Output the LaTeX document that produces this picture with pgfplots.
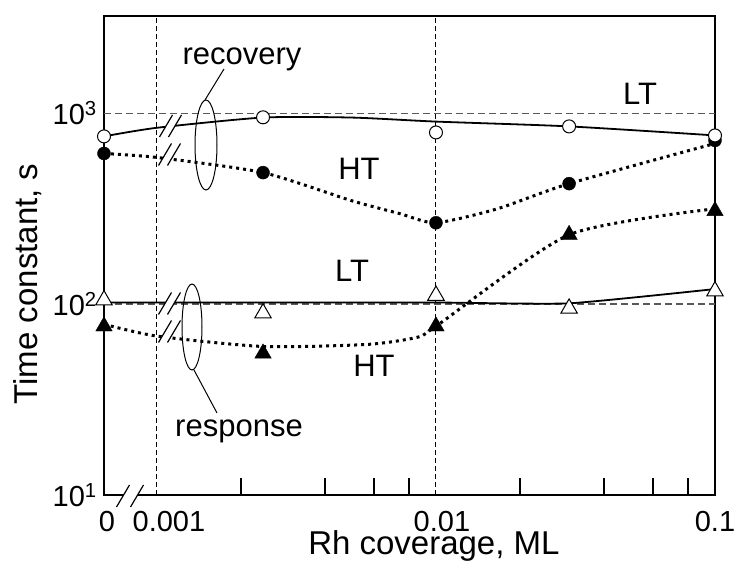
\documentclass[border=0pt]{standalone}
\usepackage{pgfplots}
\pgfplotsset{compat=1.18}
\usepackage{fontspec}
\setmainfont{Liberation Sans}
\newcommand{\brk}[3]{%
 \fill[white] ({#1-#3-6.5},{#2-11}) -- ({#1+#3-6.5},{#2-11}) -- ({#1+#3+6.5},{#2+11}) -- ({#1-#3+6.5},{#2+11}) -- cycle;
 \draw[line width=1.2pt] ({#1-#3-6.5},{#2-11}) -- ({#1-#3+6.5},{#2+11});
 \draw[line width=1.2pt] ({#1+#3-6.5},{#2-11}) -- ({#1+#3+6.5},{#2+11});
}
\begin{document}
\begin{tikzpicture}[x=1pt,y=1pt]
\begin{axis}[
  at={(104pt,74pt)}, anchor=south west,
  scale only axis, width=611pt, height=479pt,
  xmode=log, ymode=log,
  xmin=0.000646, xmax=0.1, ymin=10, ymax=3236,
  clip=false,
  axis line style={draw=none},
  xtick={0.000646,0.001,0.01,0.1},
  xticklabels={\hspace*{6pt}0,\hspace*{24pt}0.001,\hspace*{12pt}0.01,0.1},
  minor xtick={0.002,0.004,0.006,0.008,0.02,0.04,0.06,0.08},
  ytick={10,100,1000},
  yticklabels={10\textsuperscript{1},10\textsuperscript{2},10\textsuperscript{3}},
  yminorticks=false,
  xtick pos=left, ytick pos=left,
  major tick length=0pt, minor tick length=17pt,
  minor tick style={line width=1.3pt,black},
  xticklabel style={font=\fontsize{29}{34}\selectfont, anchor=base, yshift=-37pt, inner sep=0pt},
  yticklabel style={font=\fontsize{29}{34}\selectfont, anchor=east, inner sep=0pt, xshift=-7pt},
  xlabel={Rh coverage, ML}, ylabel={Time constant, s},
  xlabel style={font=\fontsize{33}{38}\selectfont, at={(axis description cs:0.54,0)}, anchor=base, yshift=-60pt, inner sep=0pt},
  ylabel style={font=\fontsize{33}{38}\selectfont, at={(axis description cs:-0.1244,0.4405)}, anchor=center},
]
% frame
\draw[black, line width=2.6pt] (rel axis cs:0,0) rectangle (rel axis cs:1,1);
% reference grid lines
\draw[gray!70!black, line width=1.4pt, dash pattern=on 7pt off 4pt] (axis cs:0.000646,1000) -- (axis cs:0.1,1000);
\draw[gray!70!black, line width=1.4pt, dash pattern=on 7pt off 4pt] (axis cs:0.000646,100) -- (axis cs:0.1,100);
\draw[black, line width=1pt, dash pattern=on 5pt off 3pt] (axis cs:0.001,10) -- (axis cs:0.001,3236);
\draw[black, line width=1pt, dash pattern=on 5pt off 3pt] (axis cs:0.01,10) -- (axis cs:0.01,3236);

% guide curves
\addplot[black, line width=1.8pt, smooth, tension=0.4] coordinates {
 (0.000646,757) (0.001,840) (0.0024,950) (0.005,950) (0.01,905) (0.03,854) (0.1,766)};
\addplot[black, line width=3pt, dash pattern=on 3pt off 4pt, smooth, tension=0.4] coordinates {
 (0.000646,616) (0.001,587) (0.0024,489) (0.005,348) (0.00743,298) (0.01,267) (0.0166,316) (0.03,428) (0.1,695)};
\addplot[black, line width=1.8pt, smooth, tension=0.3] coordinates {
 (0.000646,102) (0.001,102) (0.0024,102) (0.01,102) (0.03,101) (0.1,120)};
\addplot[black, line width=3pt, dash pattern=on 3pt off 4pt, smooth, tension=0.4] coordinates {
 (0.000646,78.5) (0.001,68) (0.0024,60) (0.00566,61.5) (0.00855,67) (0.01,76.6) (0.03,231) (0.1,316)};

% markers: recovery HT (filled circles)
\addplot[only marks, mark=*, mark size=6.5pt, mark options={fill=black, draw=black}] coordinates {
 (0.000646,616) (0.0024,489) (0.01,267) (0.03,428) (0.1,721)};
% recovery LT (open circles)
\addplot[only marks, mark=*, mark size=6.5pt, mark options={fill=white, draw=black, line width=1pt}] coordinates {
 (0.000646,757) (0.0024,953) (0.01,794) (0.03,854) (0.1,766)};
% response HT (filled triangles)
\addplot[only marks, mark=triangle*, mark size=9.5pt, mark options={fill=black, draw=black}] coordinates {
 (0.000646,76.6) (0.0024,55.2) (0.01,76.6) (0.03,231) (0.1,308)};
% response LT (open triangles)
\addplot[only marks, mark=triangle*, mark size=9.5pt, mark options={fill=white, draw=black, line width=1pt}] coordinates {
 (0.000646,105) (0.0024,89.7) (0.01,111) (0.03,95) (0.1,117)};
\end{axis}

% axis breaks
\brk{170.5}{443}{4.5}
\brk{169.5}{414.5}{4.5}
\brk{169.5}{265.5}{4.5}
\brk{169.5}{237.5}{4.5}
\brk{130}{73}{7}

% annotation ellipses
\draw[line width=1pt] (206,424) ellipse [x radius=11, y radius=45];
\draw[line width=1pt] (205,469) -- (224,500);
\draw[line width=1pt] (192,242) ellipse [x radius=10, y radius=43];
\draw[line width=1pt] (194,199) -- (217,156);

\begin{scope}[every node/.style={font=\fontsize{31}{36}\selectfont, anchor=base, inner sep=0pt}]
\node at (242,504) {recovery};
\node at (239,132) {response};
\node at (359,389) {HT};
\node at (352,287) {LT};
\node at (374,192) {HT};
\node at (640,464) {LT};
\end{scope}

\pgfresetboundingbox
\path[use as bounding box] (0,0) rectangle (737,569);
\end{tikzpicture}
\end{document}
